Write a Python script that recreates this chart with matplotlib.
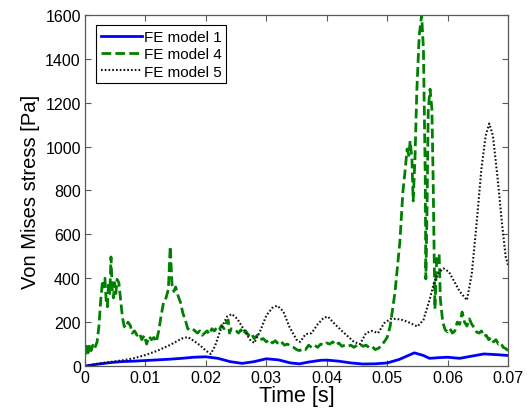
import numpy as np
import matplotlib
matplotlib.use("Agg")
import matplotlib.pyplot as plt

plt.rcParams['font.family'] = ['Liberation Sans', 'DejaVu Sans']

# time in ms, stress in Pa
t1 = [0, 2, 4, 6, 8, 10, 12, 14, 16, 18, 20, 22, 24, 26, 28, 30, 32, 34, 35.5, 37, 39, 40,
      42, 44, 46, 48, 50, 52, 54.5, 56, 57, 58.5, 60, 62, 64, 66, 68, 70]
s1 = [0, 8, 15, 20, 22, 25, 28, 31, 35, 40, 42, 35, 20, 12, 20, 33, 28, 14, 10, 18, 26, 27,
      22, 14, 9, 10, 14, 30, 60, 48, 35, 38, 40, 35, 45, 55, 52, 48]

t4 = [0, 0.3, 0.5, 0.8, 1.0, 1.3, 1.6, 2.0, 2.3, 2.6, 2.9, 3.1, 3.3, 3.5, 3.7, 3.9, 4.1, 4.3,
      4.5, 4.7, 4.9, 5.1, 5.3, 5.6, 5.9, 6.2, 6.5, 6.8, 7.1, 7.5, 7.8, 8.2, 8.6, 9.0, 9.4, 9.8,
      10.2, 10.6, 11.0, 11.4, 11.8, 12.2, 12.6, 13.0, 13.4, 13.8, 14.1, 14.4, 14.7, 15.0, 15.4,
      15.8, 16.2, 16.6, 17.0, 17.4, 17.8, 18.2, 18.6, 19.0, 19.4, 19.8, 20.2, 20.6, 21.0, 21.4,
      21.8, 22.2, 22.6, 23.0, 23.4, 23.7, 23.9, 24.2, 24.6, 25.0, 25.4, 25.8, 26.2, 26.6, 27.0,
      27.5, 28.0, 28.5, 29.0, 29.5, 30.0, 30.5, 31.0, 31.5, 32.0, 32.5, 33.0, 33.5, 34.0, 34.5,
      35.0, 35.5, 36.0, 36.5, 37.0, 37.5, 38.0, 38.5, 39.0, 39.5, 40.0, 40.5, 41.0, 41.5, 42.0,
      42.5, 43.0, 43.5, 44.0, 44.5, 45.0, 45.5, 46.0, 46.5, 47.0, 47.5, 48.0, 48.5, 49.0, 49.5,
      50.0, 50.5, 51.0, 51.3, 51.7, 52.1, 52.6, 53.0, 53.3, 53.6, 53.8, 54.1, 54.3, 54.6, 54.9,
      55.3, 55.7, 56.0, 56.3, 56.4, 56.6, 56.8, 57.1, 57.4, 57.6, 57.9, 58.2, 58.6, 58.8, 59.2,
      59.6, 60.0, 60.4, 60.8, 61.2, 61.6, 62.0, 62.4, 62.8, 63.2, 63.6, 64.0, 64.4, 64.8, 65.2,
      65.6, 66.0, 66.4, 66.8, 67.2, 67.6, 68.0, 68.4, 68.8, 69.2, 69.6, 70.0]
s4 = [50, 90, 60, 100, 70, 95, 80, 110, 180, 300, 390, 360, 400, 300, 270, 380, 330, 497,
      350, 310, 380, 330, 395, 380, 300, 220, 180, 175, 200, 185, 150, 160, 140, 150, 120, 140,
      100, 135, 120, 130, 110, 160, 230, 290, 310, 350, 545, 370, 340, 360, 320,
      290, 240, 210, 170, 165, 170, 160, 150, 160, 140, 150, 160, 145, 170, 160,
      175, 165, 185, 170, 200, 210, 150, 170, 165, 160, 150, 165, 145, 160, 140,
      150, 125, 140, 120, 125, 110, 120, 105, 115, 100, 110, 95, 100, 90, 85,
      75, 70, 80, 75, 95, 85, 95, 85, 100, 95, 105, 100, 110, 95, 105,
      90, 95, 90, 95, 85, 95, 100, 90, 95, 85, 90, 75, 80, 90, 110,
      130, 182, 280, 337, 450, 565, 793, 900, 989, 960, 1026, 944, 752, 944, 1249,
      1504, 1600, 1445, 866, 397, 716, 1171, 1262, 1171, 866, 260, 488, 510, 305, 200,
      165, 155, 170, 150, 160, 200, 190, 246, 200, 182, 215, 190, 175, 155, 150,
      160, 135, 140, 120, 130, 110, 120, 100, 105, 85, 80, 70]

t5 = [0, 2, 4, 6, 8, 10, 12, 14, 16, 17, 18, 19, 20, 20.8, 21.5, 22.5, 23.5, 24.3, 25.2, 26.2,
      27.3, 28.0, 29.0, 30.0, 31.0, 31.8, 32.8, 33.8, 35.0, 35.6, 36.5, 37.5, 38.5, 39.5, 40.2,
      41.2, 42.5, 43.5, 44.5, 45.5, 46.5, 47.5, 48.5, 49.5, 50.5, 51.5, 52.5, 53.5, 55.0, 56.0,
      57.0, 57.8, 58.5, 59.3, 60.2, 61.0, 62.0, 63.2, 64.0, 64.8, 65.6, 66.3, 66.9, 67.5, 68.3,
      69.0, 69.6, 70.0]
s5 = [0, 10, 18, 25, 35, 50, 70, 95, 125, 132, 115, 95, 70, 55, 90, 170, 225, 237, 215, 170,
      120, 105, 160, 230, 265, 275, 250, 180, 120, 110, 145, 150, 190, 220, 225,
      195, 160, 135, 110, 100, 150, 160, 150, 195, 214, 215, 210, 200, 180, 210,
      300, 385, 425, 445, 430, 390, 340, 300, 420, 650, 900, 1050, 1105, 1050, 850,
      650, 500, 460]

labels = ['FE model 1', 'FE model 4', 'FE model 5']

fig = plt.figure(figsize=(5.27, 4.14), dpi=100)
ax = fig.add_axes([0.1613, 0.1135, 0.8027, 0.848])

ax.plot(np.array(t1) / 1000, s1, color='#0000ff', lw=2, label=labels[0])
ax.plot(np.array(t4) / 1000, s4, color='#008000', lw=2, ls=(0, (3.5, 1.5)), label=labels[1])
ax.plot(np.array(t5) / 1000, s5, color='#111111', lw=1.5, ls=(0, (0.8, 1.0)), label=labels[2])

ax.set_xlim(0, 0.07)
ax.set_ylim(0, 1600)
ax.set_xticks(np.arange(0, 0.0701, 0.01))
ax.set_xticklabels(['0', '0.01', '0.02', '0.03', '0.04', '0.05', '0.06', '0.07'])
ax.set_yticks(np.arange(0, 1601, 200))
ax.tick_params(direction='in', length=4, width=0.8, labelsize=11.5, top=True, right=True,
               color='0.35', pad=3)
for sp in ax.spines.values():
    sp.set_color('0.35')
    sp.set_linewidth(0.9)

ax.set_xlabel('Time [s]', fontsize=15.5, labelpad=0)
ax.set_ylabel('Von Mises stress [Pa]', fontsize=14.5, labelpad=4)

leg = ax.legend(loc='upper left', bbox_to_anchor=(0.027, 0.97), fontsize=11, fancybox=False,
                framealpha=1, edgecolor='black', borderpad=0.3, handlelength=2.7,
                handletextpad=0.1, labelspacing=0.22, borderaxespad=0)
leg.get_frame().set_linewidth(0.8)

fig.savefig('out.png', dpi=100)
